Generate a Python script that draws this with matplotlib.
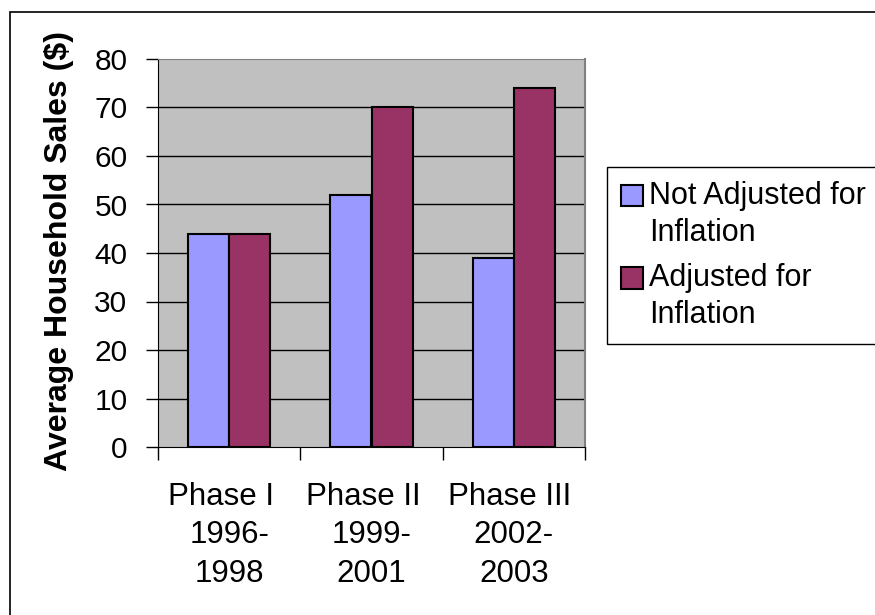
import matplotlib.pyplot as plt
import numpy as np
from matplotlib.patches import Rectangle
from matplotlib.container import BarContainer
from matplotlib.legend_handler import HandlerPatch, update_from_first_child

categories = ["Phase I  \n1996-\n1998", "Phase II  \n1999-\n2001", "Phase III \n2002-\n2003"]
not_adjusted = [44, 52, 39]
adjusted = [44, 70, 74]
series_names = ["Not Adjusted for\nInflation", "Adjusted for\nInflation"]

plt.rcParams['font.family'] = ['Liberation Sans', 'DejaVu Sans']

fig = plt.figure(figsize=(8.75, 6.15), dpi=100)
ax = fig.add_axes([158/875, 1-447/615, 427/875, 388/615])
ax.set_facecolor('#C0C0C0')

x = np.arange(len(categories))
w = 0.29
ax.bar(x - w/2, not_adjusted, w, color='#9999FF', edgecolor='black', linewidth=1.5, label=series_names[0], zorder=3)
ax.bar(x + w/2, adjusted, w, color='#993366', edgecolor='black', linewidth=1.5, label=series_names[1], zorder=3)

ax.set_xlim(-0.5, 2.5)
ax.set_ylim(0, 80)
ax.set_yticks(range(0, 81, 10))
for v in range(10, 80, 10):
    ax.axhline(v, color='black', linewidth=1, zorder=1)

ax.set_xticks([-0.5, 0.5, 1.5, 2.5])
ax.set_xticklabels([])
ax.set_xticks(x, minor=True)
ax.set_xticklabels(categories, minor=True, fontsize=22.5, linespacing=1.38)
ax.tick_params(axis='x', which='minor', length=0, pad=25)
ax.tick_params(axis='x', which='major', length=9, width=1, direction='out')
ax.tick_params(axis='y', length=9, width=1, direction='out', labelsize=21.5, pad=13)

ax.spines['top'].set_color('#808080')
ax.spines['right'].set_color('#808080')
ax.spines['right'].set_linewidth(1.5)
ax.spines['left'].set_color('black')
ax.spines['bottom'].set_color('black')

fig.text(59/875, 1-251/615, "Average Household Sales ($)", rotation=90, fontsize=23,
         fontweight='bold', ha='center', va='center')


# legend square sits next to the first text line, as in the original
def top_square(legend, orig_handle, xdescent, ydescent, width, height, fontsize):
    return Rectangle((-xdescent, -ydescent + 14), width, height)


leg = fig.legend(loc='upper left', bbox_to_anchor=(607/875, 1-167/615), fontsize=22,
                 frameon=True, fancybox=False, edgecolor='black', framealpha=1,
                 handlelength=0.72, handleheight=0.72, handletextpad=0.22,
                 borderpad=0.45, labelspacing=0.5, borderaxespad=0,
                 handler_map={BarContainer: HandlerPatch(patch_func=top_square,
                                                         update_func=update_from_first_child)})
leg.get_frame().set_linewidth(1)
for t in leg.get_texts():
    t.set_linespacing(1.3)

fig.patches.append(Rectangle((10/875, -0.1), 1.2, 1-12/615+0.1, transform=fig.transFigure,
                             fill=False, edgecolor='black', linewidth=1.2))

fig.savefig('out.png', dpi=100)
